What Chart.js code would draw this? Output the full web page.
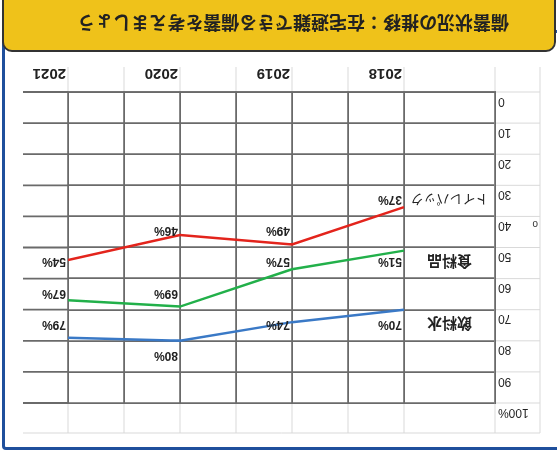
<!DOCTYPE html>
<html lang="ja">
<head>
<meta charset="utf-8">
<title>備蓄状況の推移</title>
<script src="https://cdn.jsdelivr.net/npm/chart.js@4.4.1/dist/chart.umd.min.js"></script>
<style>
  html, body { margin: 0; padding: 0; background: #fff; }
  /* the reference is a scan that was turned upside down */
  #page { position: relative; width: 557px; height: 452px; overflow: hidden; background: #fff; transform: rotate(180deg); }
  #frame { position: absolute; left: -12px; top: 2px; width: 567px; height: 420px; border: 3px solid #1f4f9c; border-radius: 4px; box-sizing: border-box; }
  #chart { position: absolute; left: 0; top: 0; }
  #title { position: absolute; left: 1px; top: 400px; width: 554px; height: 70px; background: #efc21a; border: 2px solid #333; border-radius: 10px; box-sizing: border-box; }
  #title span { position: absolute; left: 45px; top: 13px; line-height: 26px; font: bold 18px "Noto Sans CJK JP", sans-serif; color: #222; white-space: nowrap; }
  #mark { position: absolute; left: 19px; top: 222px; font: 10px "Liberation Sans", sans-serif; color: #333; }
</style>
</head>
<body>
<div id="page">
  <div id="frame"></div>
  <canvas id="chart" width="557" height="452"></canvas>
  <div id="mark">o</div>
  <div id="title"><span>備蓄状況の推移：在宅避難できる備蓄を考えましょう</span></div>
</div>
<script>
// Data
const years = ['2018', '2019', '2020', '2021'];
const seriesNames = ['トイレパック', '食料品', '飲料水'];
const toiletValues = [37, 49, 46, 54];
const foodValues = [51, 57, 69, 67];
const waterValues = [70, 74, 80, 79];
const yTickValues = [0, 10, 20, 30, 40, 50, 60, 70, 80, 90, 100];

const seriesColors = ['#e3241c', '#22b04a', '#3a79c6'];
const darkGrid = '#6a6a6a';
const lightGrid = '#d9d9d9';

// grid columns: one at every year and one half way between
const xGridValues = [];
years.forEach((y, i) => {
    if (i > 0) xGridValues.push(i - 0.5);
    xGridValues.push(i);
});

const allSeries = [toiletValues, foodValues, waterValues];

// labels sit in the table row of their value
function rowCenter(v) {
    return Math.floor(v / 10) * 10 + 4.6;
}

function strokeLine(ctx, x1, y1, x2, y2) {
    ctx.beginPath();
    ctx.moveTo(x1, y1);
    ctx.lineTo(x2, y2);
    ctx.stroke();
}

const cellPlugin = {
    id: 'cells',
    beforeDraw(chart) {
        const { ctx, chartArea: a, scales: { x, y } } = chart;
        const colL = a.left - 45, colR = a.right + 45;
        const rowT = a.top - 30, rowB = a.bottom + 25;
        ctx.save();
        ctx.strokeStyle = lightGrid;
        ctx.lineWidth = 1;
        yTickValues.forEach(v => {
            const py = y.getPixelForValue(v);
            strokeLine(ctx, colL, py, a.left, py);
        });
        strokeLine(ctx, colL, rowT, colR, rowT);
        strokeLine(ctx, colL, rowT, colL, rowB);
        [a.left].concat(xGridValues.map(v => x.getPixelForValue(v))).forEach(px => {
            strokeLine(ctx, px, rowT, px, a.top);
            strokeLine(ctx, px, a.bottom, px, rowB);
        });
        ctx.strokeStyle = darkGrid;
        ctx.lineWidth = 1.8;
        yTickValues.forEach(v => {
            const py = y.getPixelForValue(v);
            strokeLine(ctx, a.right, py, colR, py);
        });
        ctx.restore();
    },
    afterDatasetsDraw(chart) {
        const { ctx, chartArea: a, scales: { x, y } } = chart;
        ctx.save();
        ctx.fillStyle = '#222';
        ctx.textBaseline = 'middle';
        // value labels
        ctx.textAlign = 'left';
        ctx.font = 'bold 12px "Liberation Sans", sans-serif';
        allSeries.forEach(values => {
            values.forEach((v, i) => {
                ctx.fillText(v + '%', x.getPixelForValue(i) + 2, y.getPixelForValue(rowCenter(v)));
            });
        });
        // series names in the first column
        ctx.textAlign = 'center';
        const cx = (a.left + x.getPixelForValue(0)) / 2;
        seriesNames.forEach((name, i) => {
            ctx.font = (i === 0 ? '13px' : 'bold 15px') + ' "Noto Sans CJK JP", sans-serif';
            ctx.fillText(name, cx, y.getPixelForValue(rowCenter(allSeries[i][0])));
        });
        ctx.restore();
    }
};

new Chart(document.getElementById('chart').getContext('2d'), {
    type: 'line',
    data: {
        datasets: allSeries.map((values, i) => ({
            label: seriesNames[i],
            data: values.map((v, j) => ({ x: j, y: v })),
            borderColor: seriesColors[i],
            backgroundColor: seriesColors[i],
            borderWidth: 2.5,
            pointRadius: 0,
            tension: 0,
            fill: false
        }))
    },
    options: {
        responsive: false,
        animation: false,
        devicePixelRatio: 1,
        layout: { padding: { left: 17, right: 68, top: 49, bottom: 67 } },
        plugins: {
            legend: { display: false },
            tooltip: { enabled: false }
        },
        scales: {
            x: {
                type: 'linear',
                min: -0.8125,
                max: years.length - 1,
                afterBuildTicks: s => { s.ticks = xGridValues.map(v => ({ value: v })); },
                afterFit: s => { s.height = 25; },
                grid: { color: darkGrid, lineWidth: 1.8, drawTicks: false },
                border: { color: darkGrid, width: 1.8 },
                ticks: {
                    autoSkip: false,
                    maxRotation: 0,
                    align: 'start',
                    labelOffset: 2,
                    padding: 10,
                    color: '#222',
                    font: { family: '"Liberation Sans", sans-serif', size: 15, weight: 'bold' },
                    callback: v => Number.isInteger(v) ? years[v] : ''
                }
            },
            y: {
                min: 0,
                max: 100,
                afterFit: s => { s.width = 45; },
                grid: { color: darkGrid, lineWidth: 1.8, drawTicks: false },
                border: { color: darkGrid, width: 1.8 },
                ticks: {
                    stepSize: 10,
                    labelOffset: -9,
                    padding: 3,
                    color: '#222',
                    font: { family: '"Liberation Sans", sans-serif', size: 12 },
                    callback: v => v === 100 ? '100%' : String(v)
                }
            }
        }
    },
    plugins: [cellPlugin]
});
</script>
</body>
</html>
